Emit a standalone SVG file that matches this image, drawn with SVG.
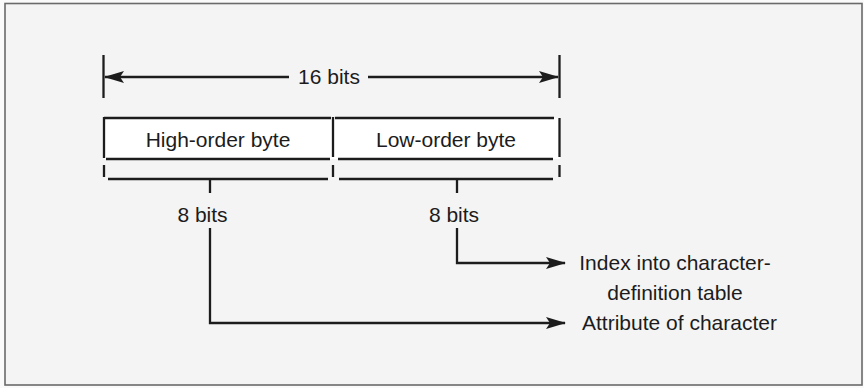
<svg xmlns="http://www.w3.org/2000/svg" width="864" height="388" viewBox="0 0 864 388">
  <style>
    .ln { stroke: #1c1c1c; stroke-width: 2.3; fill: none; }
    .tx { font-family: "Liberation Sans", Arial, sans-serif; font-size: 21px; fill: #1c1c1c; }
  </style>
  <defs>
    <marker id="ah" viewBox="0 0 20 12" refX="19" refY="6" markerUnits="userSpaceOnUse" markerWidth="20" markerHeight="12" orient="auto-start-reverse">
      <path d="M0,0 L20,6 L0,12 L4,6 Z" fill="#1c1c1c"/>
    </marker>
  </defs>
  <rect x="0" y="0" width="864" height="388" fill="#fafafa"/>
  <rect x="5" y="3.5" width="857" height="381.5" fill="#f4f4f4" stroke="#6a6a6a" stroke-width="1.6"/>

  <g id="width-dimension">
    <line class="ln" x1="103.5" y1="55" x2="103.5" y2="98"/>
    <line class="ln" x1="559.5" y1="55" x2="559.5" y2="98"/>
    <line class="ln" x1="105" y1="77" x2="289" y2="77" marker-start="url(#ah)"/>
    <line class="ln" x1="368" y1="77" x2="558" y2="77" marker-end="url(#ah)"/>
    <text class="tx" x="329" y="83.5" text-anchor="middle">16 bits</text>
  </g>

  <g id="high-byte">
    <rect x="104" y="118" width="229" height="41" fill="#ffffff" stroke="none"/>
    <line class="ln" x1="104" y1="118" x2="331" y2="118"/>
    <line class="ln" x1="106" y1="159" x2="330" y2="159"/>
    <line class="ln" x1="108" y1="179" x2="328" y2="179"/>
    <line class="ln" x1="104" y1="117" x2="104" y2="158"/>
    <line class="ln" x1="104" y1="165" x2="104" y2="177"/>
    <text class="tx" x="218" y="147" text-anchor="middle">High-order byte</text>
  </g>

  <g id="low-byte">
    <rect x="333" y="118" width="227" height="41" fill="#ffffff" stroke="none"/>
    <line class="ln" x1="335" y1="118" x2="554" y2="118"/>
    <line class="ln" x1="338" y1="159" x2="553" y2="159"/>
    <line class="ln" x1="339" y1="179" x2="553" y2="179"/>
    <line class="ln" x1="333" y1="117" x2="333" y2="157"/>
    <line class="ln" x1="333" y1="165" x2="333" y2="177"/>
    <line class="ln" x1="559.5" y1="118" x2="559.5" y2="157"/>
    <line class="ln" x1="559.5" y1="165" x2="559.5" y2="177"/>
    <text class="tx" x="446" y="147" text-anchor="middle">Low-order byte</text>
  </g>

  <g id="connectors">
    <line class="ln" x1="210" y1="179" x2="210" y2="193"/>
    <polyline class="ln" points="210,228 210,323 565,323" marker-end="url(#ah)"/>
    <line class="ln" x1="457" y1="179" x2="457" y2="193"/>
    <polyline class="ln" points="457,228 457,263 565,263" marker-end="url(#ah)"/>
  </g>

  <g id="labels">
    <text class="tx" x="202.5" y="222" text-anchor="middle">8 bits</text>
    <text class="tx" x="454" y="222" text-anchor="middle">8 bits</text>
  </g>

  <g id="index-target">
    <text class="tx" x="675" y="269.5" text-anchor="middle">Index into character-</text>
    <text class="tx" x="675" y="299.5" text-anchor="middle">definition table</text>
  </g>

  <g id="attribute-target">
    <text class="tx" x="582" y="330">Attribute of character</text>
  </g>
</svg>
